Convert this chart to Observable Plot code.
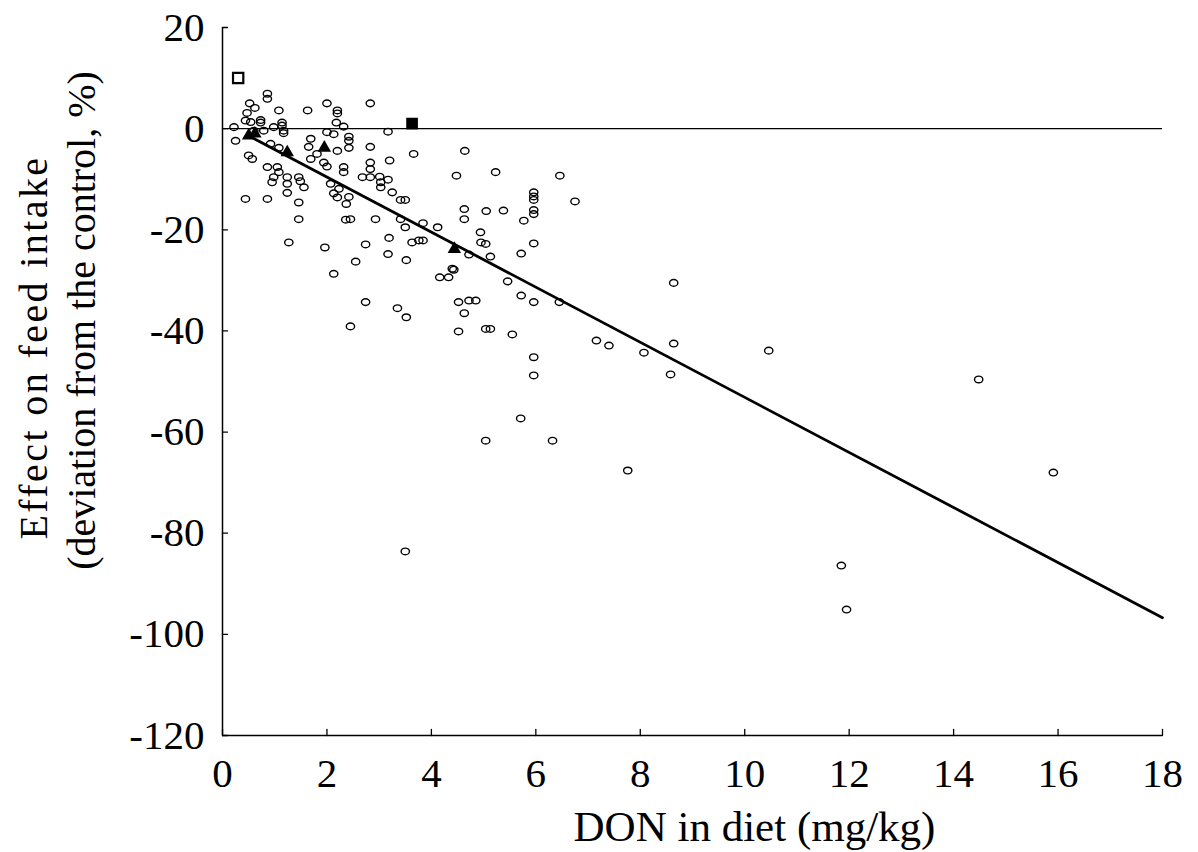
<!DOCTYPE html>
<html>
<head>
<meta charset="utf-8">
<script src="https://cdn.jsdelivr.net/npm/d3@7"></script>
<script src="https://cdn.jsdelivr.net/npm/@observablehq/plot@0.6"></script>
<style>
  html, body { margin: 0; padding: 0; background: #fff; }
  svg { display: block; }
</style>
</head>
<body>
<div id="chart"></div>
<script>
// ---- data ----
const studyDON = [
  0.86, 0.86, 0.52, 0.62, 0.47, 1.08, 1.63, 2.00, 2.20, 2.20,
  0.44, 0.54, 0.73, 0.73, 1.14, 1.14, 2.18, 2.32, 0.22, 0.98,
  0.79, 0.60, 1.17, 1.17, 2.00, 2.13, 0.25, 1.69, 1.65, 2.42,
  2.42, 2.42, 0.92, 1.08, 2.20, 1.81, 1.69, 1.94, 2.00, 0.50,
  0.57, 0.86, 1.05, 1.08, 2.32, 2.32, 1.24, 1.24, 1.24, 0.98,
  0.95, 1.46, 1.49, 1.56, 2.07, 2.23, 0.44, 0.86, 2.20, 2.42,
  2.13, 2.37, 1.46, 1.46, 2.36, 2.45, 1.27, 1.96, 2.55, 2.13,
  2.45, 2.83, 3.17, 2.83, 3.66, 4.64, 2.83, 2.83, 3.20, 2.68,
  2.83, 3.01, 3.03, 3.03, 3.17, 4.48, 3.25, 3.41, 3.50, 2.93,
  3.41, 3.50, 3.84, 4.12, 4.63, 4.63, 5.05, 4.94, 4.95, 5.04,
  3.19, 2.74, 3.63, 3.76, 3.84, 3.17, 3.52, 4.72, 4.40, 4.43,
  4.16, 4.33, 2.74, 3.35, 3.52, 4.52, 4.72, 4.85, 4.63, 4.52,
  5.04, 5.13, 5.23, 6.46, 5.96, 5.96, 5.96, 6.75, 5.38, 5.96,
  5.96, 5.77, 5.96, 5.13, 5.72, 5.46, 5.72, 5.96, 6.45, 5.55,
  7.16, 7.40, 5.96, 5.96, 8.07, 8.64, 8.58, 8.64, 10.46, 14.48,
  5.71, 5.04, 6.32, 7.76, 15.91, 3.50, 11.85, 11.95
];
const studyEffect = [
  6.9, 5.9, 5.0, 4.1, 3.1, 3.6, 3.6, 5.0, 3.6, 3.0,
  1.6, 1.3, 1.7, 1.2, 1.2, 0.6, 1.2, 0.4, 0.3, 0.3,
  -0.4, -0.4, -0.4, -0.9, -0.7, -1.1, -2.4, -2.0, -3.6, -1.6,
  -2.4, -3.8, -3.0, -3.8, -4.4, -5.0, -6.0, -6.7, -7.5, -5.3,
  -6.0, -7.6, -7.6, -8.6, -7.6, -8.6, -9.6, -10.9, -12.7, -9.6,
  -10.6, -9.6, -10.4, -11.6, -10.9, -11.9, -13.9, -13.9, -13.6, -13.5,
  -12.8, -14.9, -14.6, -17.9, -18.0, -17.9, -22.5, -23.5, -26.3, -28.7,
  -39.1, 5.0, -0.6, -3.6, -5.0, -4.4, -6.7, -8.0, -6.3, -9.6,
  -9.6, -9.5, -10.6, -11.6, -10.1, -9.3, -12.6, -14.1, -14.1, -17.9,
  -17.9, -19.5, -18.7, -19.5, -15.9, -17.9, -16.3, -20.5, -22.5, -22.8,
  -21.6, -22.9, -22.5, -22.1, -22.1, -24.8, -26.0, -24.9, -27.7, -27.9,
  -29.4, -29.4, -34.3, -35.5, -37.3, -34.3, -34.0, -34.0, -36.5, -40.1,
  -39.6, -39.6, -8.6, -9.3, -12.6, -13.4, -14.1, -14.4, -16.2, -16.1,
  -16.9, -18.2, -22.7, -25.3, -24.7, -30.2, -33.0, -34.3, -34.3, -40.7,
  -41.9, -42.9, -45.2, -48.8, -44.3, -42.5, -48.6, -30.5, -43.9, -49.6,
  -57.3, -61.7, -61.7, -67.6, -68.0, -83.6, -86.4, -95.1
];
// filled triangles
const triDON = [0.50, 0.62, 1.24, 1.95, 4.44];
const triEffect = [-1.4, -1.0, -4.7, -3.8, -23.8];
// open square
const openSqDON = [0.30];
const openSqEffect = [10.0];
// filled square
const fillSqDON = [3.63];
const fillSqEffect = [1.0];
// regression line end points
const fitDON = [0.5, 18];
const fitEffect = [-1.4, -96.7];
// ticks
const xTicks = [0, 2, 4, 6, 8, 10, 12, 14, 16, 18];
const yTicks = [20, 0, -20, -40, -60, -80, -100, -120];
const xTitle = "DON in diet (mg/kg)";
const yTitle1 = "Effect on feed intake";
const yTitle2 = "(deviation from the control, %)";

// ---- tables ----
const studies = studyDON.map((x, i) => ({x, y: studyEffect[i]}));
const tris = triDON.map((x, i) => ({x, y: triEffect[i]}));
const openSq = openSqDON.map((x, i) => ({x, y: openSqEffect[i]}));
const fillSq = fillSqDON.map((x, i) => ({x, y: fillSqEffect[i]}));
const fit = fitDON.map((x, i) => ({x, y: fitEffect[i]}));

// open ellipse symbol
const K = 0.5523;
const ellipse = {
  draw(ctx, size) {
    const r = Math.sqrt(size / Math.PI);
    const rx = r * 1.12, ry = r * 0.9;
    ctx.moveTo(rx, 0);
    ctx.bezierCurveTo(rx, K * ry, K * rx, ry, 0, ry);
    ctx.bezierCurveTo(-K * rx, ry, -rx, K * ry, -rx, 0);
    ctx.bezierCurveTo(-rx, -K * ry, -K * rx, -ry, 0, -ry);
    ctx.bezierCurveTo(K * rx, -ry, rx, -K * ry, rx, 0);
    ctx.closePath();
  }
};
const tickShape = { draw(ctx, l) { ctx.moveTo(0, 0); ctx.lineTo(0, -l); } };

const font = "'Liberation Serif', 'Times New Roman', serif";

const chart = Plot.plot({
  width: 1198,
  height: 852,
  marginLeft: 222,
  marginRight: 36,
  marginTop: 27,
  marginBottom: 117,
  x: {domain: [0, 18]},
  y: {domain: [-120, 20]},
  style: {fontFamily: font, fontSize: "40px", background: "#fff", color: "#000", overflow: "visible"},
  marks: [
    Plot.ruleY([0], {stroke: "#000", strokeWidth: 1.3}),
    Plot.ruleX([0], {stroke: "#000", strokeWidth: 1.5}),
    Plot.ruleY([-120], {stroke: "#000", strokeWidth: 1.5}),
    Plot.vector(xTicks, {x: d => d, y: -120, length: 6, anchor: "start", shape: tickShape, stroke: "#000", strokeWidth: 1.3}),
    Plot.vector(yTicks, {x: 0, y: d => d, length: 5, rotate: 90, anchor: "start", shape: tickShape, stroke: "#000", strokeWidth: 1.3}),
    Plot.axisX(xTicks, {tickSize: 0, tickPadding: 22, fontSize: 41, label: null, tickFormat: d => String(d)}),
    Plot.axisY(yTicks, {tickSize: 0, tickPadding: 18, fontSize: 41, label: null, tickFormat: d => String(d)}),
    Plot.line(fit, {x: "x", y: "y", stroke: "#000", strokeWidth: 2.8}),
    Plot.dot(studies, {x: "x", y: "y", symbol: ellipse, r: 3.7, stroke: "#000", fill: "none", strokeWidth: 1.4}),
    Plot.dot(tris, {x: "x", y: "y", symbol: "triangle", r: 5.0, fill: "#000", stroke: "none"}),
    Plot.dot(openSq, {x: "x", y: "y", symbol: "square", r: 5.8, fill: "#fff", stroke: "#000", strokeWidth: 2.2}),
    Plot.dot(fillSq, {x: "x", y: "y", symbol: "square", r: 6.6, fill: "#000", stroke: "none"}),
    Plot.text([xTitle], {text: d => d, frameAnchor: "bottom", dx: 62, dy: 92, lineAnchor: "middle", textAnchor: "middle", fontSize: 43}),
    Plot.text([yTitle1], {text: d => d, frameAnchor: "left", rotate: -90, dx: -188, dy: -34, lineAnchor: "middle", textAnchor: "middle", fontSize: 40, className: "ytitle1"}),
    Plot.text([yTitle2], {text: d => d, frameAnchor: "left", rotate: -90, dx: -140, dy: -61, lineAnchor: "middle", textAnchor: "middle", fontSize: 40})
  ]
});
// the reference spaces the first title line out a little
d3.select(chart).selectAll(".ytitle1 text").attr("letter-spacing", "2.4px");
document.getElementById("chart").appendChild(chart);
</script>
</body>
</html>
